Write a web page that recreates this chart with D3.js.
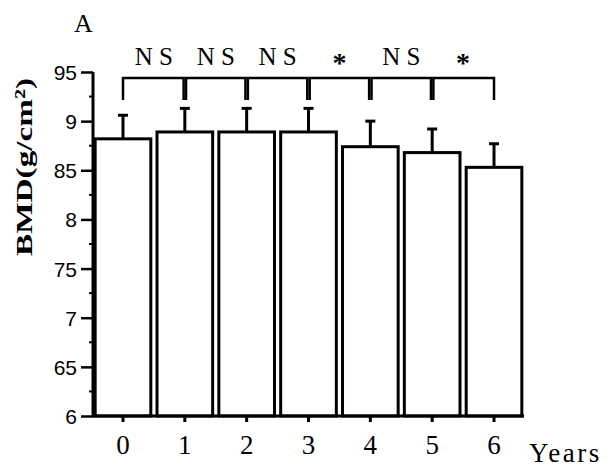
<!DOCTYPE html>
<html>
<head>
<meta charset="utf-8">
<script src="https://cdn.jsdelivr.net/npm/d3@7"></script>
<style>
  html, body { margin: 0; padding: 0; background: #fff; }
  svg { display: block; }
</style>
</head>
<body>
<svg id="chart" width="615" height="469"></svg>
<script>
// Bone mineral density by year of follow-up
const years = ["0", "1", "2", "3", "4", "5", "6"];
const bmdMean = [0.882, 0.889, 0.889, 0.889, 0.874, 0.868, 0.853];
const bmdErr = [0.024, 0.024, 0.024, 0.024, 0.026, 0.024, 0.024];
const yTickValues = [0.60, 0.65, 0.70, 0.75, 0.80, 0.85, 0.90, 0.95];
const yTickLabels = ["6", "65", "7", "75", "8", "85", "9", "95"];
const yMinorValues = [0.625, 0.675, 0.725, 0.775, 0.825, 0.875, 0.925];
// Year-to-year comparisons (between consecutive years)
const pairLabels = ["N S", "N S", "N S", "*", "N S", "*"];

const serif = "'Liberation Serif', 'Times New Roman', serif";
const sans = "'Liberation Sans', Arial, sans-serif";

const svg = d3.select("#chart");
const plotLeft = 93, plotRight = 524, plotTop = 72, plotBottom = 416;

const x = d3.scaleBand().domain(years).range([plotLeft, plotRight])
  .paddingInner(0.1).paddingOuter(0.035);
const y = d3.scaleLinear().domain([0.60, 0.95]).range([plotBottom, plotTop]);
const cx = d => x(d) + x.bandwidth() / 2;

// Bars
svg.append("g").selectAll("rect").data(years).join("rect")
  .attr("x", d => x(d))
  .attr("y", (d, i) => y(bmdMean[i]))
  .attr("width", x.bandwidth())
  .attr("height", (d, i) => y(0.60) - y(bmdMean[i]))
  .attr("fill", "#fff")
  .attr("stroke", "#000")
  .attr("stroke-width", 3);

// Upper error bars
const err = svg.append("g").attr("stroke", "#000");
err.selectAll("line.stem").data(years).join("line").attr("class", "stem")
  .attr("x1", d => cx(d)).attr("x2", d => cx(d))
  .attr("y1", (d, i) => y(bmdMean[i]))
  .attr("y2", (d, i) => y(bmdMean[i] + bmdErr[i]))
  .attr("stroke-width", 3);
err.selectAll("line.cap").data(years).join("line").attr("class", "cap")
  .attr("x1", d => cx(d) - 5).attr("x2", d => cx(d) + 5)
  .attr("y1", (d, i) => y(bmdMean[i] + bmdErr[i]))
  .attr("y2", (d, i) => y(bmdMean[i] + bmdErr[i]))
  .attr("stroke-width", 3);

// Y axis
const yAxis = svg.append("g").attr("transform", `translate(${plotLeft},0)`)
  .call(d3.axisLeft(y).tickValues(yTickValues)
    .tickFormat((d, i) => yTickLabels[i]).tickSize(12).tickPadding(4));
yAxis.select(".domain").attr("d", `M0,${plotTop}V${plotBottom}`).attr("stroke-width", 3);
yAxis.selectAll(".tick line").attr("stroke-width", 2.5);
yAxis.selectAll(".tick text").attr("font-family", sans).attr("font-size", 21)
  .attr("fill", "#000").attr("dy", "0.36em");
svg.append("g").selectAll("line").data(yMinorValues).join("line")
  .attr("x1", plotLeft - 4).attr("x2", plotLeft)
  .attr("y1", d => y(d)).attr("y2", d => y(d))
  .attr("stroke", "#000").attr("stroke-width", 2);

// X axis
const xAxis = svg.append("g").attr("transform", `translate(0,${plotBottom})`)
  .call(d3.axisBottom(x).tickSize(6).tickPadding(13));
xAxis.select(".domain").attr("d", `M${plotLeft},0H${plotRight}`).attr("stroke-width", 3);
xAxis.selectAll(".tick line").attr("stroke-width", 3);
xAxis.selectAll(".tick text").attr("font-family", serif).attr("font-size", 27)
  .attr("fill", "#000");

svg.append("text").attr("x", 529).attr("y", 462)
  .attr("font-family", serif).attr("font-size", 27).attr("letter-spacing", 2.5)
  .text("Years");

// Y axis title
svg.append("text")
  .attr("transform", "translate(32,167) rotate(-90)")
  .attr("text-anchor", "middle")
  .attr("font-family", serif).attr("font-weight", "bold").attr("font-size", 24)
  .attr("textLength", 178).attr("lengthAdjust", "spacingAndGlyphs")
  .text("BMD(g/cm²)");

// Panel letter
svg.append("text").attr("x", 74).attr("y", 32)
  .attr("font-family", serif).attr("font-size", 26).text("A");

// Comparison brackets between consecutive years
const bracketY = 78, dropY = 100;
const brackets = svg.append("g").attr("fill", "none").attr("stroke", "#000").attr("stroke-width", 2.5);
pairLabels.forEach((lab, i) => {
  const a = cx(years[i]) + (i > 0 ? 1.2 : 0);
  const b = cx(years[i + 1]) - (i < pairLabels.length - 1 ? 1.2 : 0);
  brackets.append("path")
    .attr("d", `M${a},${dropY}V${bracketY}H${b}V${dropY}`);
  const mid = (cx(years[i]) + cx(years[i + 1])) / 2;
  const isStar = lab === "*";
  svg.append("text")
    .attr("x", mid)
    .attr("y", isStar ? 72 : 65)
    .attr("text-anchor", "middle")
    .attr("font-family", serif)
    .attr("font-size", isStar ? 28 : 25)
    .attr("font-weight", isStar ? "bold" : "normal")
    .text(lab);
});
</script>
</body>
</html>
